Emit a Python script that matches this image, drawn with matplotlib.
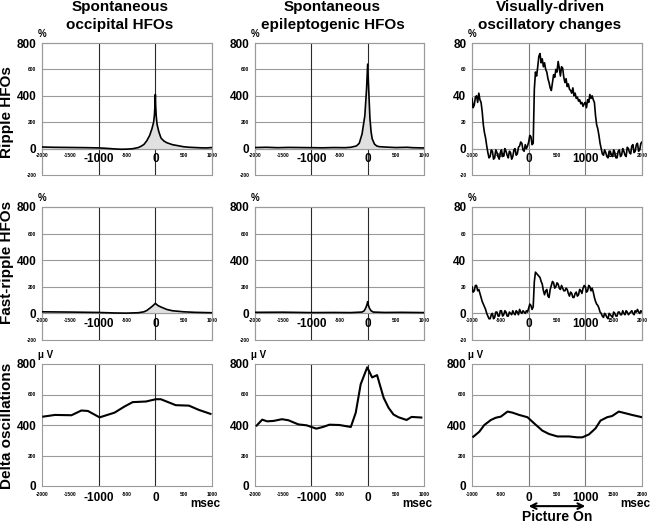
import matplotlib
matplotlib.use("Agg")
import matplotlib.pyplot as plt
from matplotlib.patches import Rectangle

plt.rcParams["font.family"] = ["Liberation Sans", "DejaVu Sans"]
plt.rcParams["font.weight"] = "bold"

W, H = 650, 524

# --- data ---
# ripple HFOs, occipital (ms, %)
occ_rip_t = [-2000, -1800, -1600, -1400, -1200, -1000, -900, -800, -700, -600, -500, -400,
             -300, -250, -200, -150, -100, -60, -30, -15, -5, 0, 5, 15, 30, 60, 100, 150,
             200, 300, 400, 500, 600, 700, 800, 900, 1000]
occ_rip_v = [12, 10, 9, 8, 7, 5, 3, 0, -3, -5, -4, -1,
             8, 18, 32, 60, 100, 150, 200, 260, 340, 410, 330, 250, 185, 130, 80, 58,
             45, 30, 22, 14, 10, 8, 6, 5, 8]

# ripple HFOs, epileptogenic
epi_rip_t = [-2000, -1800, -1600, -1400, -1200, -1000, -800, -600, -400, -300, -200, -150,
             -100, -50, -20, 0, 20, 40, 60, 80, 120, 160, 200, 300, 500, 700, 800, 1000]
epi_rip_v = [8, 10, 7, 9, 8, 7, 6, 8, 7, 10, 20, 40,
             110, 250, 450, 640, 430, 230, 130, 75, 35, 20, 15, 12, 8, 10, 7, 5]

# fast-ripple HFOs, occipital
occ_fr_t = [-2000, -1500, -1000, -700, -500, -300, -200, -150, -100, -50, 0, 50, 100, 200,
            300, 500, 700, 1000]
occ_fr_v = [12, 10, 7, 3, 2, 5, 12, 22, 38, 55, 75, 58, 48, 30, 20, 12, 8, 5]

# fast-ripple HFOs, epileptogenic
epi_fr_t = [-2000, -1500, -1000, -600, -300, -100, -60, -30, -10, 0, 10, 30, 60, 100, 300,
            600, 1000]
epi_fr_v = [8, 9, 6, 7, 6, 10, 20, 45, 70, 88, 65, 40, 20, 10, 7, 8, 6]

# visually-driven changes, sampled every 20 ms (ms, %)
vis_t = [-1000, -980, -960, -940, -920, -900, -880, -860, -840, -820,
         -800, -780, -760, -740, -720, -700, -680, -660, -640, -620,
         -600, -580, -560, -540, -520, -500, -480, -460, -440, -420,
         -400, -380, -360, -340, -320, -300, -280, -260, -240, -220,
         -200, -180, -160, -140, -120, -100, -80, -60, -40, -20,
         0, 20, 40, 60, 80, 100, 120, 140, 160, 180,
         200, 220, 240, 260, 280, 300, 320, 340, 360, 380,
         400, 420, 440, 460, 480, 500, 520, 540, 560, 580,
         600, 620, 640, 660, 680, 700, 720, 740, 760, 780,
         800, 820, 840, 860, 880, 900, 920, 940, 960, 980,
         1000, 1020, 1040, 1060, 1080, 1100, 1120, 1140, 1160, 1180,
         1200, 1220, 1240, 1260, 1280, 1300, 1320, 1340, 1360, 1380,
         1400, 1420, 1440, 1460, 1480, 1500, 1520, 1540, 1560, 1580,
         1600, 1620, 1640, 1660, 1680, 1700, 1720, 1740, 1760, 1780,
         1800, 1820, 1840, 1860, 1880, 1900, 1920, 1940, 1960, 1980,
         2000]
vis_rip_v = [38, 31, 33, 39, 40, 35, 42, 37, 35, 28,
             18, 12, 8, 2, -3, -7, -6, -1, -2, -8,
             -7, -1, -3, -6, -8, -3, -1, -6, -5, 0,
             -2, -5, -7, -2, -3, -8, -6, -1, 0, -5,
             -4, 1, 2, 5, 4, -1, -2, 3, 0, 2,
             5, 10, 9, 3, 4, 45, 58, 55, 62, 70,
             72, 65, 68, 62, 65, 60, 58, 53, 50, 46,
             44, 50, 56, 54, 60, 58, 66, 61, 55, 62,
             61, 54, 50, 53, 47, 49, 45, 44, 42, 46,
             40, 42, 38, 39, 36, 37, 34, 35, 32, 34,
             35, 31, 37, 35, 41, 38, 40, 37, 35, 25,
             18, 15, 10, 4, 0, -4, -5, -1, -3, -6,
             -7, -2, -2, -5, -6, -1, -3, -7, -7, -2,
             -1, -6, -5, 0, -2, -5, -6, 1, 0, -3,
             -4, 2, 3, -3, -2, 3, 4, -2, -1, 4,
             5]
vis_fr_v = [20, 16, 17, 21, 21, 17, 18, 15, 12, 9,
            7, 5, 3, 0, -2, -4, -4, -1, 0, -4,
            -3, 1, 1, -2, -2, 2, 2, -2, -1, 2,
            1, -2, -2, 1, 0, -1, 2, 0, -1, 2,
            1, -1, 3, 1, 0, 2, 1, 0, 2, 1,
            4, 7, 6, 3, 5, 24, 31, 30, 29, 28,
            27, 24, 22, 17, 14, 17, 18, 13, 12, 18,
            21, 24, 23, 19, 20, 23, 22, 19, 18, 21,
            19, 17, 17, 19, 18, 15, 13, 16, 15, 12,
            12, 15, 16, 13, 14, 18, 17, 15, 19, 21,
            20, 16, 17, 21, 20, 17, 19, 16, 12, 9,
            7, 6, 4, 1, 0, -2, -3, 0, -1, -3,
            -4, 0, -1, -2, -3, 1, 0, -2, -2, 1,
            1, -1, -1, 2, 0, -1, 2, 1, -1, 0,
            1, 2, 0, -1, 2, 1, 3, 1, 0, 2,
            1]

# delta oscillations (ms, uV)
occ_d_t = [-1977, -1772, -1480, -1305, -1190, -984, -720, -545, -400, -166, 9, 97, 360, 593,
           768, 973]
occ_d_v = [455, 466, 464, 495, 492, 450, 481, 521, 550, 554, 569, 569, 530, 527, 499, 473]
epi_d_t = [-1971, -1872, -1784, -1668, -1522, -1406, -1231, -1085, -911, -794, -678, -503,
           -299, -212, -124, -8, 79, 167, 283, 371, 458, 546, 691, 779, 953]
epi_d_v = [396, 435, 424, 427, 438, 431, 404, 398, 376, 387, 402, 400,
           387, 480, 667, 778, 712, 727, 579, 513, 469, 451, 433, 453, 449]
vis_d_t = [-977, -871, -783, -666, -578, -490, -373, -285, -168, -21, 96, 242, 360, 506, 711,
           858, 946, 1063, 1180, 1268, 1385, 1473, 1590, 1707, 1824, 2000]
vis_d_v = [323, 356, 400, 433, 448, 455, 488, 481, 466, 451, 411, 363, 341, 325, 325,
           319, 319, 338, 378, 429, 451, 459, 488, 477, 466, 451]

col_titles = [("Spontaneous", "occipital HFOs"),
              ("Spontaneous", "epileptogenic HFOs"),
              ("Visually-driven", "oscillatory changes")]
row_titles = ["Ripple HFOs", "Fast-ripple HFOs", "Delta oscillations"]

# x ticks for the two time ranges
x_spont = [-2000, -1500, -1000, -500, 0, 500, 1000]
x_spont_big = [-1000, 0]
x_vis = [-1000, -500, 0, 500, 1000, 1500, 2000]
x_vis_big = [0, 1000]

fig = plt.figure(figsize=(6.5, 5.24), dpi=100)


def add_ax(left, top, right, bottom):
    return fig.add_axes([left / W, 1 - bottom / H, (right - left) / W, (bottom - top) / H])


def style(ax, xlim, ylim, xticks, xbig, yticks, ybig, vlines, vcol, zero_axis, ylab):
    ax.set_xlim(xlim)
    ax.set_ylim(ylim)
    for y in yticks[1:-1]:
        ax.axhline(y, color="#9a9a9a", lw=0.8, zorder=1)
    for x in vlines:
        ax.axvline(x, color=vcol, lw=0.8, zorder=1)
    for s in ax.spines.values():
        s.set_color("#9a9a9a")
        s.set_linewidth(0.8)
    if zero_axis:
        ax.spines["bottom"].set_position(("data", 0))
        ax.add_patch(Rectangle((0, 0), 1, 1, transform=ax.transAxes, fill=False,
                               ec="#9a9a9a", lw=0.8, clip_on=False, zorder=0))
    ax.set_xticks(xticks)
    ax.set_xticklabels([str(v) for v in xticks])
    ax.set_yticks(yticks)
    ax.set_yticklabels([str(v) for v in yticks])
    ax.tick_params(length=0)
    ax.tick_params(axis="x", pad=3)
    ax.tick_params(axis="y", pad=4)
    for v, lab in zip(xticks, ax.get_xticklabels()):
        lab.set_fontweight("bold")
        lab.set_fontsize(8.5 if v in xbig else 3.5)
    for v, lab in zip(yticks, ax.get_yticklabels()):
        lab.set_fontweight("bold")
        lab.set_fontsize(8.5 if v in ybig else 3.5)
    ax.text(-0.025, 1.03, ylab, transform=ax.transAxes, fontsize=7, fontweight="bold",
            ha="left", va="bottom")


cols = [(42, 212), (255, 424), (472, 642)]
rows = [(43, 175), (207, 340), (364, 486)]

hfo_y = [-200, 0, 200, 400, 600, 800]
hfo_big = [0, 400, 800]
vis_y = [-20, 0, 20, 40, 60, 80]
vis_big = [0, 40, 80]
delta_y = [0, 200, 400, 600, 800]
delta_big = [0, 400, 800]

series = [
    [(occ_rip_t, occ_rip_v), (epi_rip_t, epi_rip_v), (vis_t, vis_rip_v)],
    [(occ_fr_t, occ_fr_v), (epi_fr_t, epi_fr_v), (vis_t, vis_fr_v)],
    [(occ_d_t, occ_d_v), (epi_d_t, epi_d_v), (vis_d_t, vis_d_v)],
]

for r, (top, bot) in enumerate(rows):
    for c, (left, right) in enumerate(cols):
        ax = add_ax(left, top, right, bot)
        t, v = series[r][c]
        if c < 2:
            xlim, xt, xb, vl, vc = (-2000, 1000), x_spont, x_spont_big, [-1000, 0], "#2a2a2a"
        else:
            xlim, xt, xb, vl, vc = (-1000, 2000), x_vis, x_vis_big, [0, 1000], "#7a7a7a"
        if r < 2:
            if c < 2:
                style(ax, xlim, (-200, 800), xt, xb, hfo_y, hfo_big, vl, vc, True, "%")
                ax.fill_between(t, 0, v, color="#e0e0e0", lw=0, zorder=2)
            else:
                style(ax, xlim, (-20, 80), xt, xb, vis_y, vis_big, vl, vc, True, "%")
            ax.plot(t, v, color="black", lw=1.2, zorder=3)
        else:
            style(ax, xlim, (0, 800), xt, xb, delta_y, delta_big, vl, vc, False, "\u03bc V")
            ax.tick_params(axis="x", pad=4)
            ax.plot(t, v, color="black", lw=1.5, zorder=3)
            ax.text(1.05, -0.1, "msec", transform=ax.transAxes, fontsize=8.5,
                    fontweight="bold", ha="right", va="top")
            if c == 2:
                ax.annotate("", xy=(1000, -0.165), xytext=(0, -0.165),
                            xycoords=("data", "axes fraction"),
                            textcoords=("data", "axes fraction"),
                            arrowprops=dict(arrowstyle="<->", color="black", lw=1.5,
                                            shrinkA=0, shrinkB=0),
                            annotation_clip=False)
                ax.text(500, -0.2, "Picture On", transform=ax.get_xaxis_transform(),
                        fontsize=10, fontweight="bold", ha="center", va="top")

# column headings
for (left, right), (l1, l2) in zip(cols, col_titles):
    cx = (left + right) / 2 - 7
    fig.text(cx / W, 1 - 11 / H, l1, fontsize=11, fontweight="bold", ha="center",
             va="baseline")
    fig.text(cx / W, 1 - 29 / H, l2, fontsize=11, fontweight="bold", ha="center",
             va="baseline")

# row headings
for (top, bot), name, cy in zip(rows, row_titles, [112, 262, 426]):
    fig.text(7 / W, 1 - cy / H, name, fontsize=11, fontweight="bold", rotation=90,
             ha="center", va="center")

fig.savefig("out.png", dpi=100)
